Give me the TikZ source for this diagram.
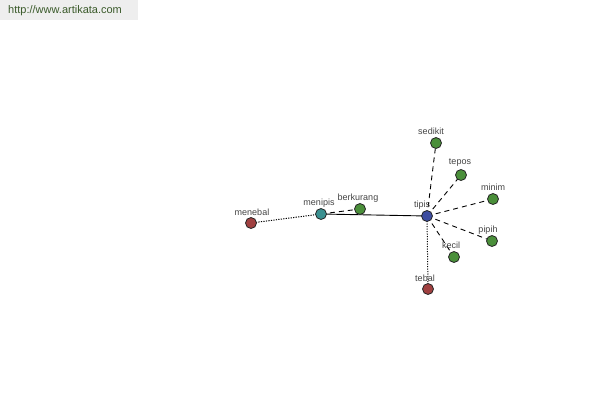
\documentclass[tikz,border=0pt]{standalone}
\usepackage{fontspec}
\setmainfont{Liberation Sans}
\usetikzlibrary{backgrounds}
\definecolor{cgreen}{HTML}{4A8F3A}
\definecolor{cred}{HTML}{A04040}
\definecolor{cteal}{HTML}{3A9090}
\definecolor{cblue}{HTML}{3D4DA0}
\definecolor{labgrey}{HTML}{444444}
\definecolor{hdrbg}{HTML}{EEEEEE}
\definecolor{hdrtxt}{HTML}{3A5A2A}
\begin{document}
\begin{tikzpicture}[x=1pt,y=-1pt,
  dot/.style={circle,draw=black!85,line width=0.8pt,inner sep=0pt,minimum size=11pt},
  lab/.style={font=\fontsize{9}{10}\selectfont,text=labgrey,inner sep=0pt},
  dsh/.style={dash pattern=on 5pt off 4pt,line width=0.9pt},
  dtt/.style={dash pattern=on 1.2pt off 1.3pt,line width=1pt},
  sld/.style={line width=0.9pt}]
\useasboundingbox (0,0) rectangle (600,400);
\fill[hdrbg] (0,0) rectangle (138,20);
\node[anchor=west,inner sep=0pt,text=hdrtxt,font=\fontsize{11}{12}\selectfont] (hdr) at (8,11) {http://www.artikata.com};
% nodes
\node[dot,fill=cblue] (tipis) at (427,216) {};
\node[dot,fill=cteal] (menipis) at (321,214) {};
\node[dot,fill=cgreen] (berkurang) at (360,209) {};
\node[dot,fill=cred] (menebal) at (251,223) {};
\node[dot,fill=cgreen] (sedikit) at (436,143) {};
\node[dot,fill=cgreen] (tepos) at (461,175) {};
\node[dot,fill=cgreen] (minim) at (493,199) {};
\node[dot,fill=cgreen] (pipih) at (492,241) {};
\node[dot,fill=cgreen] (kecil) at (454,257) {};
\node[dot,fill=cred] (tebal) at (428,289) {};
% edges
\begin{pgfonlayer}{background}
\draw[sld] (menipis.center) -- (tipis.center);
\draw[dtt] (menebal.center) -- (menipis.center);
\draw[dsh] (menipis.center) -- (berkurang.center);
\draw[dtt] (tipis.center) -- (tebal.center);
\foreach \n in {sedikit,tepos,minim,pipih,kecil}{\draw[dsh] (tipis.center) -- (\n.center);}
\end{pgfonlayer}
% labels
\node[lab] (l1) at (422,205) {tipis};
\node[lab] (l2) at (319,203) {menipis};
\node[lab] (l3) at (358,198) {berkurang};
\node[lab] (l4) at (252,212) {menebal};
\node[lab] (l5) at (431,131) {sedikit};
\node[lab] (l6) at (460,163) {tepos};
\node[lab] (l7) at (493,187) {minim};
\node[lab] (l8) at (488,230) {pipih};
\node[lab] (l9) at (451,245) {kecil};
\node[lab] (l10) at (425,278) {tebal};
\end{tikzpicture}
\end{document}
